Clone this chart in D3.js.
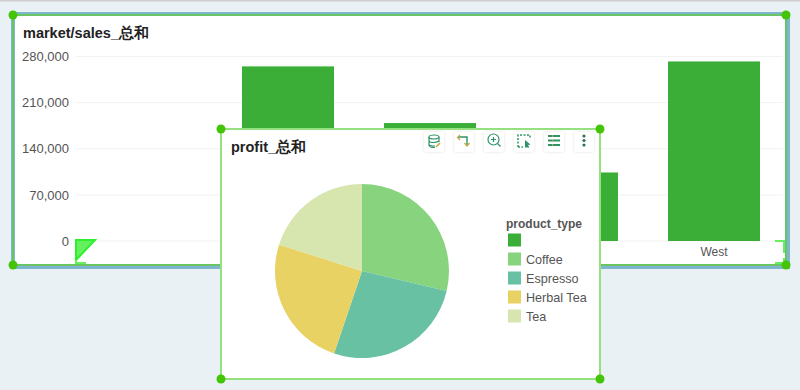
<!DOCTYPE html>
<html>
<head>
<meta charset="utf-8">
<script src="https://d3js.org/d3.v7.min.js"></script>
<style>
  html, body { margin: 0; padding: 0; background: #e9f1f5; overflow: hidden; }
  text { font-family: "Liberation Sans", Arial, sans-serif; }
</style>
</head>
<body>
<svg id="chart" width="800" height="390"></svg>
<script>
// bar chart data
const regions = ['', 'Central', 'East', 'South', 'West'];
const sales = [0, 265000, 179000, 104000, 272500];
const salesTicks = [0, 70000, 140000, 210000, 280000];
// the other region labels sit behind the front card
const visibleRegions = ['West'];

// pie chart data
const productTypes = ['', 'Coffee', 'Espresso', 'Herbal Tea', 'Tea'];
const profit = [0, 28.7, 26.5, 24.7, 20.1];
const typeColors = ['#3aae36', '#88d47e', '#68c1a3', '#e8d264', '#d7e5ae'];

const handleColor = '#44c406';
const svg = d3.select('#chart');

svg.append('rect').attr('width', 800).attr('height', 1.5).attr('fill', '#cfcfcf');

// top card
svg.append('rect')
  .attr('x', 13).attr('y', 14).attr('width', 775).attr('height', 253)
  .attr('fill', '#fff').attr('stroke', '#7fb6cf').attr('stroke-width', 4);
svg.append('rect')
  .attr('x', 13).attr('y', 15).attr('width', 773).attr('height', 250)
  .attr('fill', 'none').attr('stroke', '#69c463').attr('stroke-width', 2);

svg.append('text')
  .attr('x', 23).attr('y', 38)
  .attr('font-size', 14.5).attr('font-weight', 'bold').attr('fill', '#222')
  .text('market/sales_总和');

const xScale = d3.scaleBand()
  .domain(regions)
  .range([75, 785])
  .paddingInner(0.352)
  .paddingOuter(0.176);

const yScale = d3.scaleLinear()
  .domain([0, 280000])
  .range([241, 56.5]);

// grid lines
svg.append('g')
  .selectAll('line')
  .data(salesTicks)
  .join('line')
  .attr('x1', 76)
  .attr('x2', 783)
  .attr('y1', d => yScale(d))
  .attr('y2', d => yScale(d))
  .attr('stroke', '#f2f2f2');

const yAxis = svg.append('g')
  .attr('transform', 'translate(76,0)')
  .call(d3.axisLeft(yScale).tickValues(salesTicks).tickFormat(d3.format(',')).tickSize(0).tickPadding(7));
yAxis.select('.domain').remove();
yAxis.selectAll('text').attr('font-size', 13).attr('fill', '#555').style('font-family', '"Liberation Sans", Arial, sans-serif');

const xAxis = svg.append('g')
  .attr('transform', 'translate(0,241)')
  .call(d3.axisBottom(xScale).tickValues(visibleRegions).tickSize(0).tickPadding(6));
xAxis.select('.domain').remove();
xAxis.selectAll('text').attr('font-size', 12).attr('fill', '#555').style('font-family', '"Liberation Sans", Arial, sans-serif');

svg.append('g')
  .selectAll('rect')
  .data(regions)
  .join('rect')
  .attr('x', d => xScale(d))
  .attr('y', (d, i) => yScale(sales[i]))
  .attr('width', xScale.bandwidth())
  .attr('height', (d, i) => 241 - yScale(sales[i]))
  .attr('fill', '#3aae36');

// resize marker, bottom left of plot
svg.append('path')
  .attr('d', 'M76 240H95L76 260Z')
  .attr('fill', '#66f060').attr('stroke', '#2cf02c').attr('stroke-width', 2);
svg.append('path')
  .attr('d', 'M76 260V263H86')
  .attr('fill', 'none').attr('stroke', '#66f060').attr('stroke-width', 2);
// resize marker, bottom right of plot
svg.append('path')
  .attr('d', 'M775 241H784V253M775 263H784V258')
  .attr('fill', 'none').attr('stroke', '#66f060').attr('stroke-width', 2);

// front card
svg.append('rect')
  .attr('x', 221).attr('y', 129).attr('width', 379).attr('height', 250)
  .attr('fill', '#fff').attr('stroke', '#95e07f').attr('stroke-width', 2);

svg.append('text')
  .attr('x', 231).attr('y', 152)
  .attr('font-size', 14.5).attr('font-weight', 'bold').attr('fill', '#222')
  .text('profit_总和');

// pie
const pie = d3.pie().sort(null).value((d, i) => profit[i]);
const arc = d3.arc().innerRadius(0).outerRadius(87);

svg.append('g')
  .attr('transform', 'translate(362,271)')
  .selectAll('path')
  .data(pie(productTypes))
  .join('path')
  .attr('d', arc)
  .attr('fill', (d, i) => typeColors[i]);

// legend
svg.append('text')
  .attr('x', 506).attr('y', 228)
  .attr('font-size', 12).attr('font-weight', 'bold').attr('fill', '#555')
  .text('product_type');

const legendY = d3.scalePoint().domain(productTypes).range([240, 316]);

const legend = svg.append('g')
  .selectAll('g')
  .data(productTypes)
  .join('g')
  .attr('transform', d => `translate(508,${legendY(d)})`);
legend.append('rect')
  .attr('x', 0).attr('y', -6.5).attr('width', 13).attr('height', 13)
  .attr('fill', (d, i) => typeColors[i]);
legend.append('text')
  .attr('x', 18).attr('y', 4.5)
  .attr('font-size', 12.6).attr('fill', '#555')
  .text(d => d);

// toolbar buttons
const toolbar = [424, 454, 484, 514, 544, 574];
const toolGreen = '#2f9468';
const toolGold = '#c9a63c';

const shadow = svg.append('defs').append('filter').attr('id', 'btnShadow');
shadow.append('feDropShadow')
  .attr('dx', 0).attr('dy', 0).attr('stdDeviation', 1.5)
  .attr('flood-color', '#000').attr('flood-opacity', 0.12);

const buttons = svg.append('g')
  .selectAll('g')
  .data(toolbar)
  .join('g')
  .attr('transform', d => `translate(${d},132)`);
buttons.append('rect')
  .attr('width', 20).attr('height', 20).attr('rx', 3)
  .attr('fill', '#fff').attr('filter', 'url(#btnShadow)');

const icon = i => d3.select(buttons.nodes()[i]).append('g')
  .attr('fill', 'none').attr('stroke', toolGreen).attr('stroke-width', 1.2);

// data source
icon(0).call(g => {
  g.append('ellipse').attr('cx', 10).attr('cy', 5).attr('rx', 5).attr('ry', 2);
  g.append('path').attr('d', 'M5 5V13C5 15 8 15.500 11 15.500M15 5V10M5 9C6 11 12 11 15 9M5 12.500C6 14 9 14 11 14');
  g.append('path').attr('d', 'M12 15L16 11').attr('stroke', toolGold).attr('stroke-width', 1.6);
});
// swap axes
icon(1).call(g => {
  g.append('path').attr('d', 'M4 5H13V13').attr('stroke-width', 1.4);
  g.append('path').attr('d', 'M6 3L3.500 5.500L6 8M10.500 11L13 14L15.500 11').attr('stroke', toolGold);
});
// zoom
icon(2).call(g => {
  g.append('circle').attr('cx', 9.500).attr('cy', 7.500).attr('r', 5.500);
  g.append('path').attr('d', 'M13.500 11.500L16.500 14.500M7 7.500H12M9.500 5V10');
});
// select
icon(3).call(g => {
  g.append('path').attr('d', 'M4 15V3H16V7M4 15H9').attr('stroke-dasharray', '2 1.500').attr('stroke-width', 1.5);
  g.append('path').attr('d', 'M11 8L16.500 12.500L14 13L15.500 15.500L11 15.500Z').attr('fill', toolGreen).attr('stroke', 'none');
});
// list
icon(4).call(g => {
  g.append('path').attr('d', 'M4 4H16M4 8.500H16M4 13H16').attr('stroke-width', 1.8);
  g.append('path').attr('d', 'M8 4H9M8 8.500H9M8 13H9').attr('stroke-width', 1.8).attr('stroke', toolGold);
});
// more
icon(5).call(g => {
  g.selectAll('circle').data([4, 8.500, 13]).join('circle')
    .attr('cx', 10).attr('cy', d => d).attr('r', 1.6).attr('fill', '#2f6f5c').attr('stroke', 'none');
});

// handles
const handles = [[13, 15], [786, 15], [13, 265], [786, 265], [221, 129], [600, 129], [221, 379], [600, 379]];
svg.append('g')
  .selectAll('circle')
  .data(handles)
  .join('circle')
  .attr('cx', d => d[0])
  .attr('cy', d => d[1])
  .attr('r', 4.5)
  .attr('fill', handleColor);
</script>
</body>
</html>
